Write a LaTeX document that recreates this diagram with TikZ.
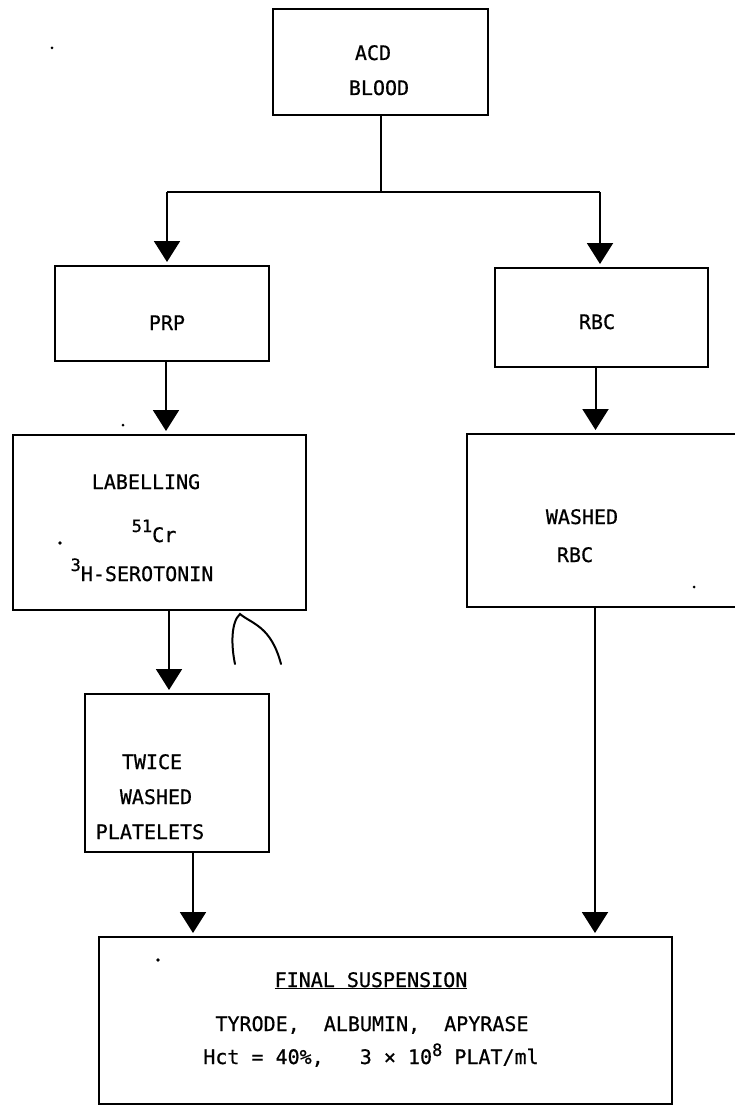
\documentclass[tikz,border=0pt]{standalone}
\usepackage{fontspec}
\newfontfamily\tw[FakeBold=0.7]{DejaVu Sans Mono}
\usetikzlibrary{arrows.meta}
\begin{document}
\begin{tikzpicture}[x=1pt,y=-1pt,
  box/.style={draw, line width=2.2pt, rectangle, inner sep=0pt, outer sep=0pt},
  lbl/.style={font=\tw\fontsize{20}{23}\selectfont, inner sep=0pt, text height=14pt, text depth=0pt},
  ln/.style={line width=2pt},
  arr/.style={line width=2pt, -{Triangle[width=26pt,length=21pt]}, shorten >=4pt}]
\useasboundingbox (0,0) rectangle (735,1105);
\fill[white] (0,0) rectangle (735,1105);
% boxes
\node[box, minimum width=215pt, minimum height=106pt] (acd) at (380.5,62) {};
\node[box, minimum width=214pt, minimum height=95pt] (prp) at (162,313.5) {};
\node[box, minimum width=213pt, minimum height=99pt] (rbc) at (601.5,317.5) {};
\node[box, minimum width=293pt, minimum height=175pt] (lab) at (159.5,522.5) {};
\node[box, minimum width=278pt, minimum height=173pt] (wrbc) at (606,520.5) {};
\node[box, minimum width=184pt, minimum height=158pt] (twice) at (177,773) {};
\node[box, minimum width=573pt, minimum height=167pt] (final) at (385.5,1020.5) {};
% texts
\node[lbl] (t1) at (373,53) {ACD};
\node[lbl] (t2) at (379,88) {BLOOD};
\node[lbl] (t3) at (167,323) {PRP};
\node[lbl] (t4) at (597,322) {RBC};
\node[lbl] (t5) at (146,482) {LABELLING};
\node[lbl] (t6) at (154,535) {{\fontsize{17}{17}\selectfont\raisebox{10pt}{51}}Cr};
\node[lbl] (t7) at (142,574) {{\fontsize{17}{17}\selectfont\raisebox{10pt}{3}}H-SEROTONIN};
\node[lbl] (t8) at (582,517) {WASHED};
\node[lbl] (t9) at (575,555) {RBC};
\node[lbl] (t10) at (152,762) {TWICE};
\node[lbl] (t11) at (156,797) {WASHED};
\node[lbl] (t12) at (150,832) {PLATELETS};
\node[lbl] (t13) at (371,980) {\underline{FINAL SUSPENSION}};
\node[lbl] (t14) at (372,1024) {TYRODE,\ \ ALBUMIN,\ \ APYRASE};
\node[lbl] (t15) at (371,1057) {Hct = 40\%,\ \ \ 3 × 10{\fontsize{17}{17}\selectfont\raisebox{8pt}{8}} PLAT/ml};
% connectors
\coordinate (j) at (381,192);
\coordinate (jl) at (167,192);
\coordinate (jr) at (600,192);
\draw[ln] (acd.south -| j) -- (j);
\draw[ln] (jl) -- (jr);
\draw[arr] (jl) -- (jl |- prp.north);
\draw[arr] (jr) -- (jr |- rbc.north);
\draw[arr] ([xshift=4pt]prp.south) -- ([xshift=4pt]prp.south |- lab.north);
\draw[arr] ([xshift=-6pt]rbc.south) -- ([xshift=-6pt]rbc.south |- wrbc.north);
\draw[arr] ([xshift=9.5pt]lab.south) -- ([xshift=9.5pt]lab.south |- twice.north);
\draw[arr] ([xshift=16pt]twice.south) -- ([xshift=16pt]twice.south |- final.north);
\draw[arr] ([xshift=-11pt]wrbc.south) -- ([xshift=-11pt]wrbc.south |- final.north);
% hand-drawn squiggle
\draw[line width=2pt, line cap=round] (235,664) .. controls (231,645) and (231,622) .. (240,614) .. controls (252,624) and (271,626) .. (281,664);
% specks
\fill (123,425) circle[radius=1.5pt];
\fill (60,543) circle[radius=1.8pt];
\fill (158,960) circle[radius=1.8pt];
\fill (694,587) circle[radius=1.5pt];
\fill (52,48) circle[radius=1.5pt];
\end{tikzpicture}
\end{document}
